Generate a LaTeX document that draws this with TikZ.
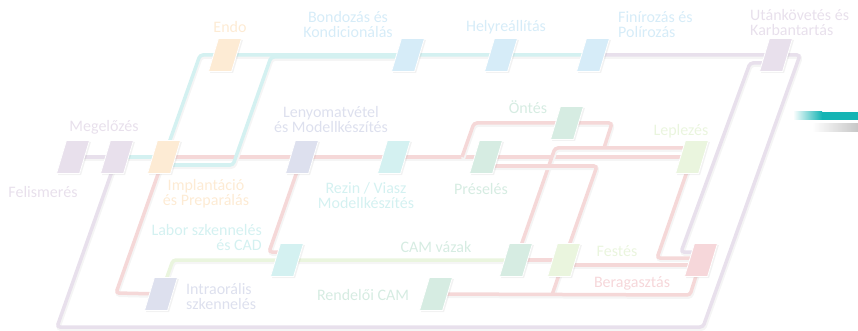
\documentclass[tikz,border=0pt]{standalone}
\usepackage{fontspec}
\setmainfont{Carlito}
\usetikzlibrary{calc,shadows,backgrounds}

\definecolor{lila}{HTML}{E8E0EC}
\definecolor{narancs}{HTML}{FDEBD4}
\definecolor{egkek}{HTML}{D6ECF8}
\definecolor{turkiz}{HTML}{D4F1F1}
\definecolor{palakek}{HTML}{DDE0EE}
\definecolor{zold}{HTML}{D6ECE2}
\definecolor{almazold}{HTML}{EAF5DE}
\definecolor{rozsa}{HTML}{F6D7DA}
\definecolor{sinpiros}{HTML}{F5D8D8}
\definecolor{petrol}{HTML}{14B4B4}

\begin{document}
\begin{tikzpicture}[x=1pt,y=-1pt,
    station/.style={draw=white, line width=0.8pt, inner sep=0pt,
        minimum width=23pt, minimum height=33pt, xslant=0.3,
        drop shadow={shadow xshift=1.5pt, shadow yshift=-1.5pt, opacity=0.1}},
    track/.style={line width=3.5pt, rounded corners=3pt,
        preaction={draw=black!4, line width=4pt, transform canvas={shift={(1pt,-2pt)}}}},
    lbl/.style={font=\fontsize{16}{15}\selectfont, inner sep=0pt}]
\useasboundingbox (0,0) rectangle (858,331);

\node[station, fill=lila] (felism) at (73,157) {};
\node[station, fill=lila] (megel) at (117,157) {};
\node[station, fill=narancs] (implant) at (164,157) {};
\node[station, fill=narancs] (endo) at (225,55) {};
\node[station, fill=egkek] (bond) at (408,55) {};
\node[station, fill=egkek] (helyre) at (501,55) {};
\node[station, fill=egkek] (finir) at (593,55) {};
\node[station, fill=lila] (utan) at (776,55) {};
\node[station, fill=palakek] (lenyom) at (302,157) {};
\node[station, fill=turkiz] (rezin) at (394,157) {};
\node[station, fill=zold] (presel) at (486,157) {};
\node[station, fill=zold] (ontes) at (567,123) {};
\node[station, fill=almazold] (leplez) at (692,157) {};
\node[station, fill=rozsa] (beragaszt) at (701,260) {};
\node[station, fill=almazold] (festes) at (564,260) {};
\node[station, fill=zold] (camvaz) at (516,260) {};
\node[station, fill=zold] (rendeloi) at (436,294) {};
\node[station, fill=palakek] (intraor) at (161,294) {};
\node[station, fill=turkiz] (labor) at (287,260) {};

\begin{scope}[on background layer]
\draw[track, lila] (felism.center) -- (megel.center);
\draw[track, lila] (finir.center) -- (utan.center) -- (800,55) -- (703,327) -- (57,327) -- (megel.center);
\draw[track, lila] ($(utan)+(0,8)$) -- (750,63) -- (681,252) -- ($(beragaszt)+(0,-8)$);

\draw[track, sinpiros] (implant.center) -- (leplez.center);
\draw[track, sinpiros] (462,157) -- (474,123) -- (612,123) -- (604,148);
\draw[track, sinpiros] (camvaz.center) -- (555,148) -- ($(leplez)+(0,-9)$);
\draw[track, sinpiros] ($(presel)+(0,9)$) -- (597,166) -- (festes.center);
\draw[track, sinpiros] (camvaz.center) -- (festes.center);
\draw[track, sinpiros] ($(festes)+(0,5)$) -- ($(beragaszt)+(0,5)$);
\draw[track, sinpiros] (leplez.center) -- (657,258) -- ($(beragaszt)+(0,-2)$);
\draw[track, sinpiros] (festes.center) -- (552,295);
\draw[track, sinpiros] (rendeloi.center) -- (690,295) -- (beragaszt.center);
\draw[track, sinpiros] (implant.center) -- (116,293) -- (intraor.center);
\draw[track, sinpiros] (lenyom.center) -- (269,252) -- ($(labor)+(0,-8)$);

\draw[track, turkiz] (megel.center) -- (implant.center);
\draw[track, turkiz] (implant.center) -- (200,55) -- (finir.center);
\draw[track, turkiz] ($(implant)+(0,8)$) -- (233,165) -- (271,57) -- ($(bond)+(0,2)$);

\draw[track, almazold] (intraor.center) -- (173,260) -- (camvaz.center);
\end{scope}

\node[lbl, text=lila] (felismL) at (43,192) {Felismerés};
\node[lbl, text=lila] (megelL) at (104,127) {Megelőzés};
\node[lbl, text=narancs, align=center] (implantL) at (206,194) {Implantáció\\és Preparálás};
\node[lbl, text=narancs] (endoL) at (230,27) {Endo};
\node[lbl, text=egkek, align=center] (bondL) at (348,25) {Bondozás és\\Kondicionálás};
\node[lbl, text=egkek] (helyreL) at (506,27) {Helyreállítás};
\node[lbl, text=egkek, align=left, anchor=west] (finirL) at (618,25) {Finírozás és\\Polírozás};
\node[lbl, text=lila, align=left, anchor=west] (utanL) at (750,23) {Utánkövetés és\\Karbantartás};
\node[lbl, text=palakek, align=center] (lenyomL) at (331,120) {Lenyomatvétel\\és Modellkészítés};
\node[lbl, text=turkiz, align=center] (rezinL) at (366,196) {Rezin / Viasz\\Modellkészítés};
\node[lbl, text=turkiz, align=right, anchor=east] (laborL) at (262,238) {Labor szkennelés\\és CAD};
\node[lbl, text=palakek, align=left, anchor=west] (intraorL) at (186,297) {Intraorális\\szkennelés};
\node[lbl, text=zold] (rendeloiL) at (363,295) {Rendelői CAM};
\node[lbl, text=zold] (camvazL) at (436,247) {CAM vázak};
\node[lbl, text=zold] (preselL) at (481,189) {Préselés};
\node[lbl, text=zold] (ontesL) at (528,107) {Öntés};
\node[lbl, text=almazold] (leplezL) at (681,131) {Leplezés};
\node[lbl, text=almazold] (festesL) at (617,251) {Festés};
\node[lbl, text=rozsa] (beragasztL) at (632,283) {Beragasztás};

\shade[left color=white, right color=black!22] (812,124) rectangle (858,132);
\shade[left color=white, right color=petrol] (793,112) rectangle (822,120);
\fill[petrol] (822,112) rectangle (858,120);
\end{tikzpicture}
\end{document}
